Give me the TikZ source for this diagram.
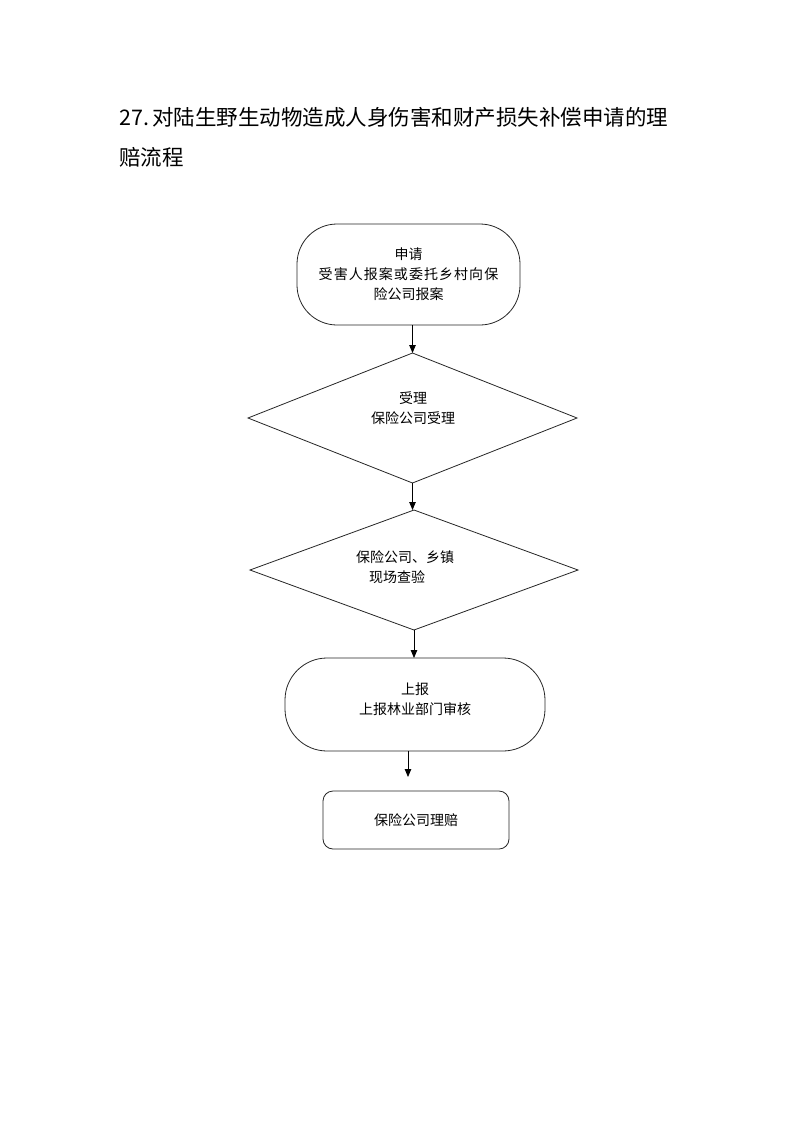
\documentclass[tikz,border=0pt]{standalone}
\usepackage{fontspec}
\newfontfamily\cjk{Noto Sans CJK SC}
\usetikzlibrary{shapes.geometric,arrows.meta}
\begin{document}
\begin{tikzpicture}[x=1pt,y=-1pt,
  box/.style={draw=black!85, line width=0.8pt, inner sep=0pt, outer sep=0pt},
  txt/.style={font=\cjk\fontsize{14}{20}\selectfont, align=center, inner sep=0pt},
  ttl/.style={anchor=base west, font=\cjk\fontsize{21.5}{40}\selectfont, inner sep=0pt},
  arr/.style={draw=black, line width=0.8pt, -{Triangle[length=8pt,width=6.5pt]}}]
\useasboundingbox (0,0) rectangle (793,1122);
\fill[white] (0,0) rectangle (793,1122);
% title
\node[ttl] (title1) at (119,125.5) {27.\hspace{3pt}对陆生野生动物造成人身伤害和财产损失补偿申请的理};
\node[ttl] (title2) at (119,165.5) {赔流程};
% nodes
\node[box, txt, rounded corners=40pt, minimum width=223pt, minimum height=101pt] (n1) at (408.5,274.5)
  {申请\\{\addfontfeature{LetterSpace=7.5}受害人报案或委托乡村向保}\\险公司报案};
\node[box, shape=diamond, minimum width=329pt, minimum height=130pt] (d1) at (412.5,418) {};
\node[txt] (t1) at (413,408) {受理\\保险公司受理};
\node[box, shape=diamond, minimum width=328pt, minimum height=120pt] (d2) at (414,570) {};
\node[txt] (t2) at (405,567) {保险公司、乡镇\\现场查验\hspace*{16pt}};
\node[box, rounded corners=42pt, minimum width=260pt, minimum height=93pt] (n4) at (415,704.5) {};
\node[txt] (t4) at (415,699) {上报\\上报林业部门审核};
\node[box, txt, rounded corners=10pt, minimum width=186pt, minimum height=58pt] (n5) at (416,820)
  {保险公司理赔};
% connectors
\draw[arr] (n1.south -| d1.north) -- (d1.north);
\draw[arr] (d1.south) -- (d1.south |- d2.north);
\draw[arr] (d2.south) -- (d2.south |- n4.north);
\coordinate (e4) at (408,777);
\draw[arr] (n4.south -| e4) -- (e4);
\end{tikzpicture}
\end{document}
